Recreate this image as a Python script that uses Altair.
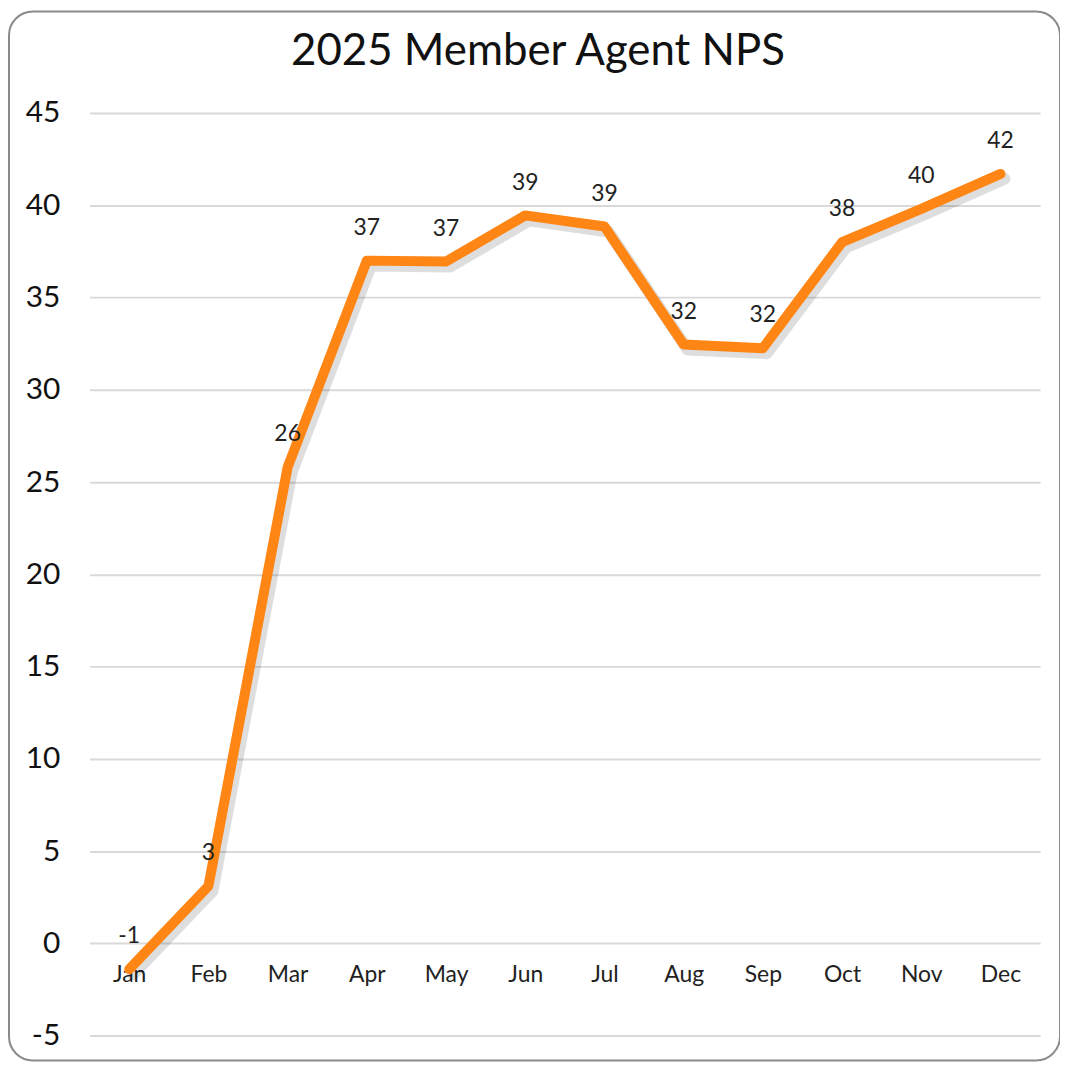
import altair as alt
import pandas as pd

months = ["Jan", "Feb", "Mar", "Apr", "May", "Jun", "Jul", "Aug", "Sep", "Oct", "Nov", "Dec"]
nps = [-1.4, 3.1, 25.8, 37.0, 36.95, 39.45, 38.85, 32.45, 32.25, 38.0, 39.8, 41.7]
labels = ["-1", "3", "26", "37", "37", "39", "39", "32", "32", "38", "40", "42"]
title_text = "2025 Member Agent NPS"

df = pd.DataFrame({"month": months, "nps": nps, "label": labels})

W, H = 955, 927
FONT = "Lato"

x = alt.X("month:N", sort=months, scale=alt.Scale(type="point", padding=0.5),
          axis=alt.Axis(title=None, orient="bottom", offset=-H / 10, domain=False, ticks=False,
                        labelAngle=0, labelFontSize=23, labelColor="#222", labelPadding=20,
                        labelFont=FONT, grid=False))
y = alt.Y("nps:Q", scale=alt.Scale(domain=[-5, 45], nice=False, zero=False),
          axis=alt.Axis(title=None, values=list(range(-5, 50, 5)), domain=False, ticks=False,
                        labelExpr="'' + datum.value",
                        labelFontSize=30, labelColor="#111", labelPadding=30, labelFont=FONT,
                        gridColor="#d9d9d9", gridWidth=2))

base = alt.Chart(df)
one = pd.DataFrame({"t": [title_text]})

border = alt.Chart(one).mark_rect(
    fill="transparent", stroke="#8a8a8a", strokeWidth=2, cornerRadius=24
).encode(x=alt.value(-81), x2=alt.value(975), y=alt.value(-102), y2=alt.value(952))

title = alt.Chart(one).mark_text(fontSize=44, font=FONT, color="#111", baseline="middle",
                                 align="center").encode(
    x=alt.value(W / 2 - 27), y=alt.value(-61), text="t:N")

shadow = base.mark_line(color="#000", opacity=0.13, strokeWidth=12, xOffset=4, yOffset=5,
                        strokeCap="round", strokeJoin="round").encode(x=x, y=y)
line = base.mark_line(color="#FF8514", strokeWidth=10, strokeCap="round",
                      strokeJoin="round").encode(x=x, y=y)
text = base.mark_text(dy=-33, fontSize=23, font=FONT, color="#222").encode(x=x, y=y, text="label:N")

chart = alt.layer(border, title, shadow, line, text).properties(
    width=W, height=H,
    padding={"left": 82, "top": 103, "right": 20, "bottom": 24},
    autosize=alt.AutoSizeParams(type="none"),
    background="white",
).configure_view(strokeWidth=0, stroke="transparent")

chart.save("out.html", embed_options={"renderer": "svg", "actions": False})
